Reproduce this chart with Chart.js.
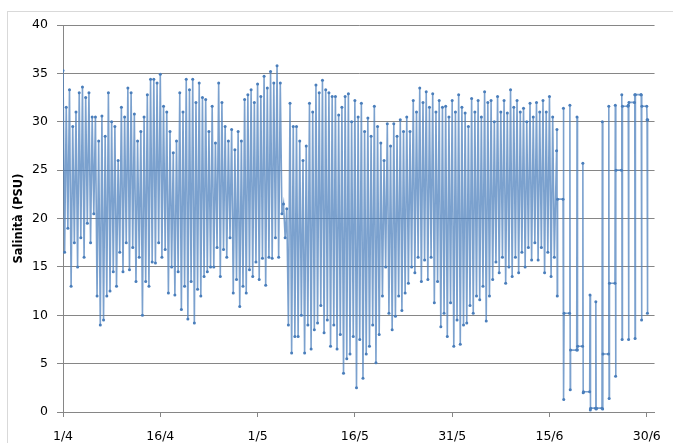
<!DOCTYPE html>
<html>
<head>
<meta charset="utf-8">
<script src="https://cdn.jsdelivr.net/npm/chart.js@4.4.1/dist/chart.umd.min.js"></script>
<style>
  html, body { margin: 0; padding: 0; background: #fff; }
  #wrap { width: 673px; height: 443px; position: relative; }
</style>
</head>
<body>
<div id="wrap"><canvas id="salChart" width="673" height="443"></canvas></div>
<script>
// Asse x: giorni dal 1/4 (0) al 30/6 (90)
const tickDays = [0, 15, 30, 45, 60, 75, 90];
const tickLabels = ['1/4', '16/4', '1/5', '16/5', '31/5', '15/6', '30/6'];

// Maree 1/4 - 15/6: due alte e due basse al giorno
const highs = [
  35.3, 31.5, 33.3, 29.5, 31.0, 33.0, 33.6, 32.5, 33.0, 30.5,
  30.5, 28.0, 30.6, 28.5, 33.0, 30.0, 29.5, 26.0, 31.5, 30.5,
  33.5, 33.0, 30.8, 28.0, 29.0, 30.5, 32.8, 34.4, 34.4, 34.0,
  34.9, 31.6, 31.0, 29.0, 26.8, 28.0, 33.0, 31.0, 34.4, 33.3,
  34.4, 32.0, 34.0, 32.5, 32.3, 29.0, 31.6, 27.8, 34.0, 32.0,
  29.5, 28.0, 29.2, 27.1, 29.0, 28.0, 32.3, 32.8, 33.3, 32.0,
  33.9, 32.6, 34.7, 33.5, 35.2, 34.0, 35.8, 34.0, 21.5, 21.0,
  31.9, 29.5, 29.5, 28.0, 26.0, 27.5, 31.9, 31.0, 33.8, 33.0,
  34.3, 33.3, 33.0, 32.6, 32.6, 30.7, 31.5, 32.6, 32.9, 30.0,
  32.2, 30.5, 31.9, 29.0, 30.4, 28.5, 31.6, 29.5, 27.8, 26.0,
  29.8, 27.5, 29.8, 28.5, 30.2, 29.0, 30.5, 29.0, 32.2, 31.0,
  33.5, 32.0, 33.1, 31.5, 32.9, 31.0, 32.2, 31.5, 31.6, 30.5,
  32.2, 31.0, 32.8, 31.5, 30.9, 29.5, 32.4, 31.0, 32.2, 30.5,
  33.1, 32.0, 32.2, 30.0, 32.6, 31.0, 32.2, 30.9, 33.3, 31.5,
  32.2, 31.0, 31.4, 30.0, 31.9, 30.5, 32.0, 31.0, 32.2, 31.0,
  32.6, 30.5
];
const lows = [
  16.5, 19.0, 13.0, 17.5, 15.0, 18.0, 16.0, 19.5, 17.5, 20.5,
  12.0, 9.0, 9.5, 12.0, 12.5, 14.5, 13.0, 16.5, 14.5, 17.5,
  14.7, 17.0, 13.5, 16.0, 10.0, 13.5, 13.0, 15.5, 15.4, 17.5,
  16.0, 16.8, 12.3, 15.0, 12.1, 14.5, 10.6, 13.0, 9.6, 13.5,
  9.2, 12.7, 12.0, 14.0, 14.5, 15.0, 15.0, 17.0, 14.0, 16.8,
  16.0, 18.0, 12.3, 13.7, 10.9, 13.0, 12.3, 14.7, 14.0, 15.5,
  13.7, 15.9, 13.1, 16.0, 15.9, 18.0, 16.0, 20.5, 18.0, 9.0,
  6.1, 7.8, 7.8, 10.0, 6.1, 9.0, 6.5, 8.5, 9.2, 11.0,
  8.2, 9.5, 6.8, 9.0, 6.5, 8.0, 4.0, 5.5, 6.0, 7.8,
  2.5, 7.5, 3.5, 6.0, 6.8, 9.0, 5.1, 8.0, 12.0, 15.0,
  10.2, 8.5, 9.9, 12.0, 10.5, 12.3, 13.3, 15.0, 14.4, 16.0,
  13.5, 15.7, 13.7, 16.0, 11.3, 13.5, 8.8, 10.2, 7.8, 11.3,
  6.8, 9.5, 7.0, 9.0, 9.2, 11.0, 10.2, 12.0, 11.6, 13.0,
  9.4, 12.0, 13.7, 15.5, 14.4, 16.0, 13.3, 15.0, 14.0, 16.0,
  14.4, 16.5, 15.0, 17.0, 15.7, 17.5, 15.7, 17.0, 14.4, 16.5,
  14.0, 16.0
];

// Giugno: misure a colonne, una al giorno
const colDays = [76.1, 77.1, 78.1, 79.2, 80.1, 81.2, 82.1, 83.1, 84.1, 85.1, 86.1, 87.1, 88.1, 89.1, 90.0];
const colHigh = [29.2, 31.4, 31.7, 30.5, 25.7, 12.1, 11.4, 30.0, 31.6, 31.7, 32.8, 31.7, 32.8, 32.8, 30.2];
const colLow = [12.0, 1.3, 2.3, 6.4, 2.0, 0.2, 0.3, 0.3, 1.4, 3.7, 7.5, 7.5, 7.6, 9.5, 10.2];
const colLinks = [27.0, 22.0, 10.2, 6.4, 6.8, 2.1, 0.4, 0.4, 6.0, 13.3, 25.0, 31.6, 32.0, 32.8, 31.6, 30.2];

// Costruzione dei punti
const points = [];
highs.forEach((h, i) => {
    points.push({ x: i * 0.5, y: h });
    points.push({ x: i * 0.5 + 0.25, y: lows[i] });
});
colDays.forEach((d, k) => {
    points.push({ x: d, y: colLinks[k] });
    points.push({ x: d + 0.05, y: colHigh[k] });
    points.push({ x: d + 0.1, y: colLow[k] });
    points.push({ x: d + 0.15, y: colLinks[k + 1] });
});

// Cornice esterna
const frame = {
    id: 'frame',
    beforeDraw(chart) {
        const ctx = chart.ctx;
        ctx.save();
        ctx.fillStyle = '#fff';
        ctx.fillRect(0, 0, chart.width, chart.height);
        ctx.strokeStyle = '#d9d9d9';
        ctx.lineWidth = 1;
        ctx.strokeRect(7.5, 11.5, 700, 500);
        ctx.restore();
    }
};

const gridColor = '#868686';

new Chart(document.getElementById('salChart').getContext('2d'), {
    type: 'line',
    data: {
        datasets: [{
            label: 'Salinità',
            data: points,
            borderColor: 'rgba(79, 129, 189, 0.75)',
            backgroundColor: '#4a7ebb',
            borderWidth: 1.6,
            pointRadius: 1.5,
            pointBorderWidth: 0,
            tension: 0
        }]
    },
    options: {
        responsive: false,
        animation: false,
        events: [],
        layout: { padding: { top: 25, right: 16, bottom: 0, left: 0 } },
        plugins: {
            legend: { display: false },
            tooltip: { enabled: false }
        },
        scales: {
            x: {
                type: 'linear',
                min: 0,
                max: 91.2,
                afterFit: s => { s.height = 31; },
                afterBuildTicks: s => { s.ticks = tickDays.map(v => ({ value: v })); },
                grid: { drawOnChartArea: false, drawTicks: true, tickLength: 5, color: gridColor },
                border: { color: gridColor },
                ticks: {
                    padding: 12,
                    maxRotation: 0,
                    autoSkip: false,
                    color: '#000',
                    font: { family: 'DejaVu Sans', size: 12.5 },
                    callback: v => tickLabels[tickDays.indexOf(v)] ?? ''
                }
            },
            y: {
                min: 0,
                max: 40,
                afterFit: s => { s.width = 63; },
                grid: { color: gridColor, tickLength: 6 },
                border: { color: gridColor },
                ticks: {
                    stepSize: 5,
                    padding: 9,
                    color: '#000',
                    font: { family: 'DejaVu Sans', size: 12.5 }
                },
                title: {
                    display: true,
                    text: 'Salinità (PSU)',
                    color: '#000',
                    padding: { top: 12, bottom: 0 },
                    font: { family: 'DejaVu Sans', size: 11.5, weight: 'bold' }
                }
            }
        }
    },
    plugins: [frame]
});
</script>
</body>
</html>
